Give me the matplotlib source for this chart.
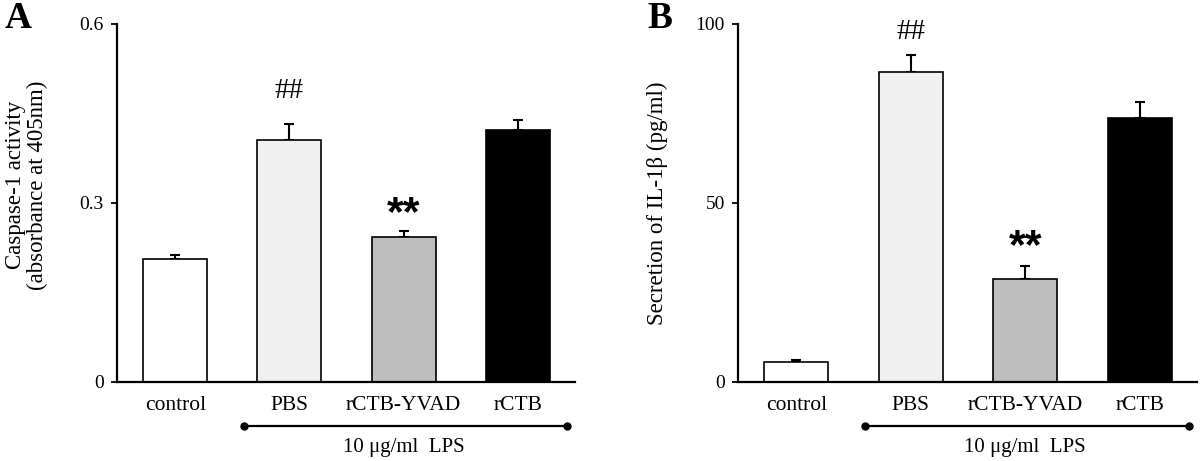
import numpy as np
import matplotlib
matplotlib.use("Agg")
import matplotlib.pyplot as plt

plt.rcParams['font.family'] = ['Liberation Serif', 'DejaVu Serif']

groups = ["control", "PBS", "rCTB-YVAD", "rCTB"]
bar_colors = ["#ffffff", "#f0f0f0", "#bebebe", "#000000"]

casp_mean = [0.205, 0.405, 0.242, 0.422]
casp_err = [0.008, 0.028, 0.011, 0.017]

il1b_mean = [5.5, 86.5, 28.6, 73.6]
il1b_err = [0.7, 4.8, 3.7, 4.7]

fig = plt.figure(figsize=(12, 4.61), dpi=100)
axA = fig.add_axes([0.0975, 0.172, 0.3817, 0.776])
axB = fig.add_axes([0.615, 0.172, 0.3825, 0.776])


def draw_panel(ax, means, errs, ymax, yticks, yticklabels, marks):
    x = np.arange(len(groups))
    ax.errorbar(x, means, yerr=[np.zeros(len(errs)), errs], fmt='none',
                ecolor='k', elinewidth=1.5, capsize=3.3, capthick=1.5, zorder=1)
    ax.bar(x, means, width=0.56, color=bar_colors, edgecolor='k',
           linewidth=1.2, zorder=2)
    ax.set_xlim(-0.51, 3.5)
    ax.set_ylim(0, ymax)
    ax.set_yticks(yticks)
    ax.set_yticklabels(yticklabels)
    ax.set_xticks(x)
    ax.set_xticklabels(groups)
    ax.tick_params(axis='y', length=4.5, width=1.3, pad=5, labelsize=14)
    ax.tick_params(axis='x', length=0, pad=10, labelsize=15.5)
    for s in ['top', 'right']:
        ax.spines[s].set_visible(False)
    for s in ['left', 'bottom']:
        ax.spines[s].set_linewidth(1.6)

    # LPS bracket under PBS .. rCTB
    tr = ax.get_xaxis_transform()
    ax.plot([0.6, 3.43], [-0.123, -0.123], color='k', lw=1.6,
            transform=tr, clip_on=False)
    ax.plot([0.6, 3.43], [-0.123, -0.123], 'o', color='k', ms=5,
            transform=tr, clip_on=False)
    ax.text(2.0, -0.183, "10 \u03bcg/ml  LPS", transform=tr, ha='center',
            va='center', fontsize=15)

    # significance marks
    ax.text(1, marks[0], "##", ha='center', va='center', fontsize=21)
    ax.text(2, marks[1], "**", ha='center', va='center', fontsize=31,
            fontweight='bold', family=['Liberation Sans', 'DejaVu Sans'])


draw_panel(axA, casp_mean, casp_err, 0.6, [0, 0.3, 0.6], ["0", "0.3", "0.6"],
           [0.488, 0.281])
draw_panel(axB, il1b_mean, il1b_err, 100, [0, 50, 100], ["0", "50", "100"],
           [97.8, 37.5])

axA.text(-0.197, 0.55, "Caspase-1 activity\n(absorbance at 405nm)",
         transform=axA.transAxes, rotation=90, ha='center', va='center',
         fontsize=16.5, linespacing=1.05, multialignment='center')
axB.text(-0.176, 0.50, "Secretion of IL-1\u03b2 (pg/ml)",
         transform=axB.transAxes, rotation=90, ha='center', va='center',
         fontsize=16.5)

fig.text(18 / 1200, 1 - 18 / 461, "A", ha='center', va='center',
         fontsize=27, fontweight='bold')
fig.text(660 / 1200, 1 - 18 / 461, "B", ha='center', va='center',
         fontsize=27, fontweight='bold')

fig.savefig("out.png", dpi=100)
